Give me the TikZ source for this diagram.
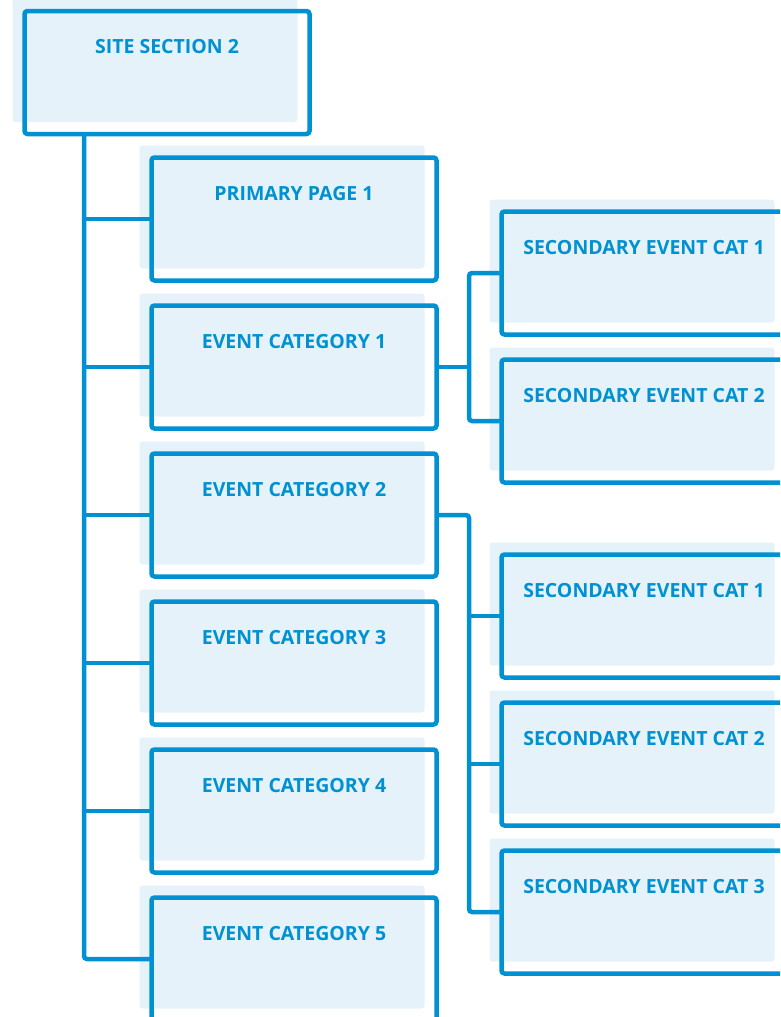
\documentclass[tikz,border=0pt]{standalone}
\usepackage{fontspec}
\setmainfont{Open Sans}
\usetikzlibrary{shadows,calc}
\definecolor{bl}{RGB}{0,145,210}
\definecolor{lf}{RGB}{229,242,249}
\begin{document}
\begin{tikzpicture}[x=1pt,y=-1pt,
  box/.style={draw=bl, line width=4.5pt, rectangle, rounded corners=3pt,
    minimum width=285pt, minimum height=123pt, outer sep=0pt, inner sep=0pt,
    anchor=north west,
    general shadow={fill=lf, shadow xshift=-12pt, shadow yshift=12pt}},
  ttl/.style={anchor=base, text=bl, font=\bfseries\fontsize{19.5}{23}\selectfont, inner sep=0pt},
  conn/.style={draw=bl, line width=4.5pt, rounded corners=3pt}]
\useasboundingbox (0,0) rectangle (780,1017);
\clip (0,0) rectangle (780,1017);
% boxes
\node[box] (site) at (24.5,11) {};
\node[box] (p1) at (151.5,157.5) {};
\node[box] (e1) at (151.5,305.5) {};
\node[box] (e2) at (151.5,453.5) {};
\node[box] (e3) at (151.5,601.5) {};
\node[box] (e4) at (151.5,749.5) {};
\node[box] (e5) at (151.5,897.5) {};
\node[box] (s11) at (501.5,211.5) {};
\node[box] (s12) at (501.5,359.5) {};
\node[box] (s21) at (501.5,554.5) {};
\node[box] (s22) at (501.5,702.5) {};
\node[box] (s23) at (501.5,850.5) {};
% titles
\node[ttl] (tsite) at ($(site.north)+(0,42.5)$) {SITE SECTION 2};
\node[ttl] (tp1) at ($(p1.north)+(0,42.5)$) {PRIMARY PAGE 1};
\node[ttl] (te1) at ($(e1.north)+(0,42.5)$) {EVENT CATEGORY 1};
\node[ttl] (te2) at ($(e2.north)+(0,42.5)$) {EVENT CATEGORY 2};
\node[ttl] (te3) at ($(e3.north)+(0,42.5)$) {EVENT CATEGORY 3};
\node[ttl] (te4) at ($(e4.north)+(0,42.5)$) {EVENT CATEGORY 4};
\node[ttl] (te5) at ($(e5.north)+(0,42.5)$) {EVENT CATEGORY 5};
\node[ttl] (ts11) at ($(s11.north)+(0,42.5)$) {SECONDARY EVENT CAT 1};
\node[ttl] (ts12) at ($(s12.north)+(0,42.5)$) {SECONDARY EVENT CAT 2};
\node[ttl] (ts21) at ($(s21.north)+(0,42.5)$) {SECONDARY EVENT CAT 1};
\node[ttl] (ts22) at ($(s22.north)+(0,42.5)$) {SECONDARY EVENT CAT 2};
\node[ttl] (ts23) at ($(s23.north)+(0,42.5)$) {SECONDARY EVENT CAT 3};
% connectors
\coordinate (m0) at ($(site.south west)+(59.5,0)$);
\draw[conn] (m0) |- (e5.west);
\foreach \n in {p1,e1,e2,e3,e4}{\draw[conn] (\n.west -| m0) -- (\n.west);}
\coordinate (b1) at ($(e1.east)+(32.5,0)$);
\draw[conn] (e1.east) -- (b1);
\draw[conn] (s11.west) -| (b1) |- (s12.west);
\coordinate (b2) at ($(e2.east)+(32.5,0)$);
\draw[conn] (e2.east) -- (b2) |- (s23.west);
\draw[conn] (s21.west -| b2) -- (s21.west);
\draw[conn] (s22.west -| b2) -- (s22.west);
\end{tikzpicture}
\end{document}
